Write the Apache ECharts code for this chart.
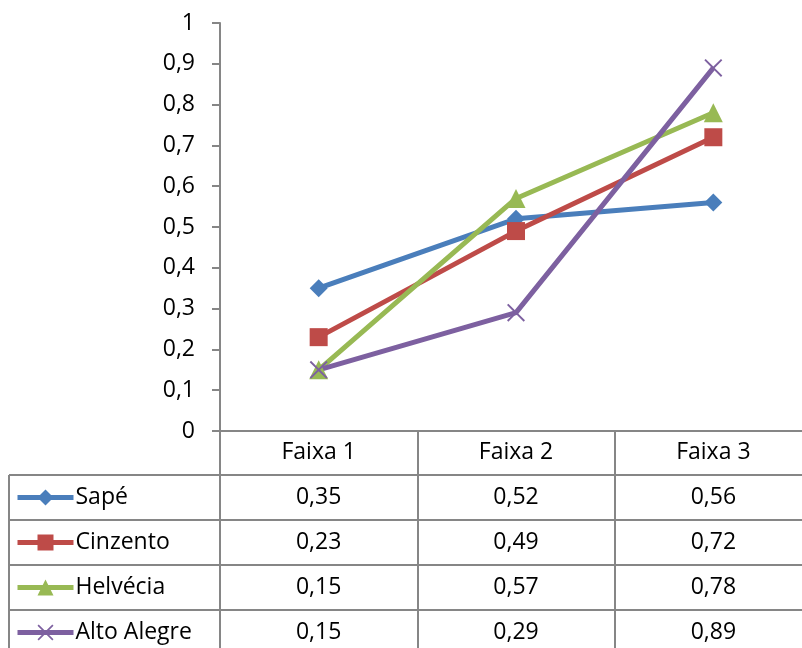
<!DOCTYPE html>
<html>
<head>
<meta charset="utf-8">
<script src="https://cdn.jsdelivr.net/npm/echarts@6/dist/echarts.min.js"></script>
<style>
  html, body { margin: 0; padding: 0; background: #ffffff; }
  #chart { width: 802px; height: 648px; }
</style>
</head>
<body>
<div id="chart"></div>
<script>
// Categories and series values
const categories = ['Faixa 1', 'Faixa 2', 'Faixa 3'];
const seriesNames = ['Sapé', 'Cinzento', 'Helvécia', 'Alto Alegre'];
const sape = [0.35, 0.52, 0.56];
const cinzento = [0.23, 0.49, 0.72];
const helvecia = [0.15, 0.57, 0.78];
const altoAlegre = [0.15, 0.29, 0.89];
const yMin = 0, yMax = 1, yStep = 0.1;

const FONT = 'Open Sans';
const FS = 23;
const AXIS_GREY = '#868686';
const colors = ['#4a7ebb', '#be4b48', '#98b954', '#7d60a0'];
const crossPath = 'path://M1.5,0 L10,8.5 L18.5,0 L20,1.5 L11.5,10 L20,18.5 L18.5,20 L10,11.5 L1.5,20 L0,18.5 L8.5,10 L0,1.5 Z';
const symbols = ['diamond', 'rect', 'triangle', crossPath];
const symbolSizes = [18, 18, 19, 18];
const values = [sape, cinzento, helvecia, altoAlegre];

const fmtNum = v => (v === 0 || v === 1) ? String(v) : v.toFixed(2).replace(/0$/, '').replace('.', ',');

const chart = echarts.init(document.getElementById('chart'), null, { renderer: 'canvas' });

const HEADER_H = 44, ROW_H = 45;
const legends = seriesNames.map((name, i) => ({
  data: [name],
  left: 15,
  top: 431 + HEADER_H + ROW_H * i + ROW_H / 2 - 13,
  itemWidth: 56,
  itemHeight: 20,
  itemGap: 0,
  selectedMode: false,
  lineStyle: { width: 5 },
  textStyle: { fontFamily: FONT, fontSize: FS, color: '#000', lineHeight: 26, padding: [0, 0, 0, -3] },
  padding: 0
}));

chart.setOption({
  animation: false,
  backgroundColor: '#ffffff',
  grid: { left: 220, width: 592, top: 23, bottom: 217, containLabel: false, outerBoundsMode: 'none' },
  legend: legends,
  xAxis: {
    type: 'category',
    data: categories,
    boundaryGap: true,
    axisLine: { lineStyle: { color: AXIS_GREY, width: 2 } },
    axisTick: { show: true, length: 217, lineStyle: { color: AXIS_GREY, width: 2 } },
    axisLabel: { fontFamily: FONT, fontSize: FS, color: '#000', margin: 10 },
    splitLine: { show: false }
  },
  yAxis: {
    type: 'value',
    min: yMin, max: yMax, interval: yStep,
    axisLine: { show: true, lineStyle: { color: AXIS_GREY, width: 2 } },
    axisTick: { show: true, length: 8, lineStyle: { color: AXIS_GREY, width: 2 } },
    axisLabel: { fontFamily: FONT, fontSize: FS, color: '#000', margin: 25, formatter: v => fmtNum(Math.round(v * 10) / 10) },
    splitLine: { show: false }
  },
  series: seriesNames.map((name, i) => ({
    name,
    type: 'line',
    data: values[i],
    symbol: symbols[i],
    symbolSize: symbolSizes[i],
    showAllSymbol: true,
    lineStyle: { color: colors[i], width: 5 },
    itemStyle: { color: colors[i] },
    emphasis: { disabled: true }
  }))
});

// Data table beneath the plot: grid lines and value cells
function drawTable() {
  const axisY = chart.convertToPixel({ yAxisIndex: 0 }, 0);
  const left = 9, right = 802;
  const elems = [];
  const lineStyle = { stroke: AXIS_GREY, lineWidth: 2 };
  for (let r = 0; r < seriesNames.length; r++) {
    const y = axisY + HEADER_H + ROW_H * r;
    elems.push({ type: 'line', shape: { x1: left, y1: y, x2: right, y2: y }, style: lineStyle, silent: true });
  }
  elems.push({ type: 'line', shape: { x1: left, y1: axisY + HEADER_H, x2: left, y2: 648 }, style: lineStyle, silent: true });
  values.forEach((vals, r) => {
    const cy = axisY + HEADER_H + ROW_H * r + ROW_H / 2;
    vals.forEach((v, c) => {
      const cx = chart.convertToPixel({ xAxisIndex: 0 }, c);
      elems.push({
        type: 'text', x: cx, y: cy, silent: true,
        style: { text: fmtNum(v), fontFamily: FONT, fontSize: FS, fill: '#000', align: 'center', verticalAlign: 'middle' }
      });
    });
  });
  chart.setOption({ graphic: elems });
}
drawTable();
</script>
</body>
</html>
